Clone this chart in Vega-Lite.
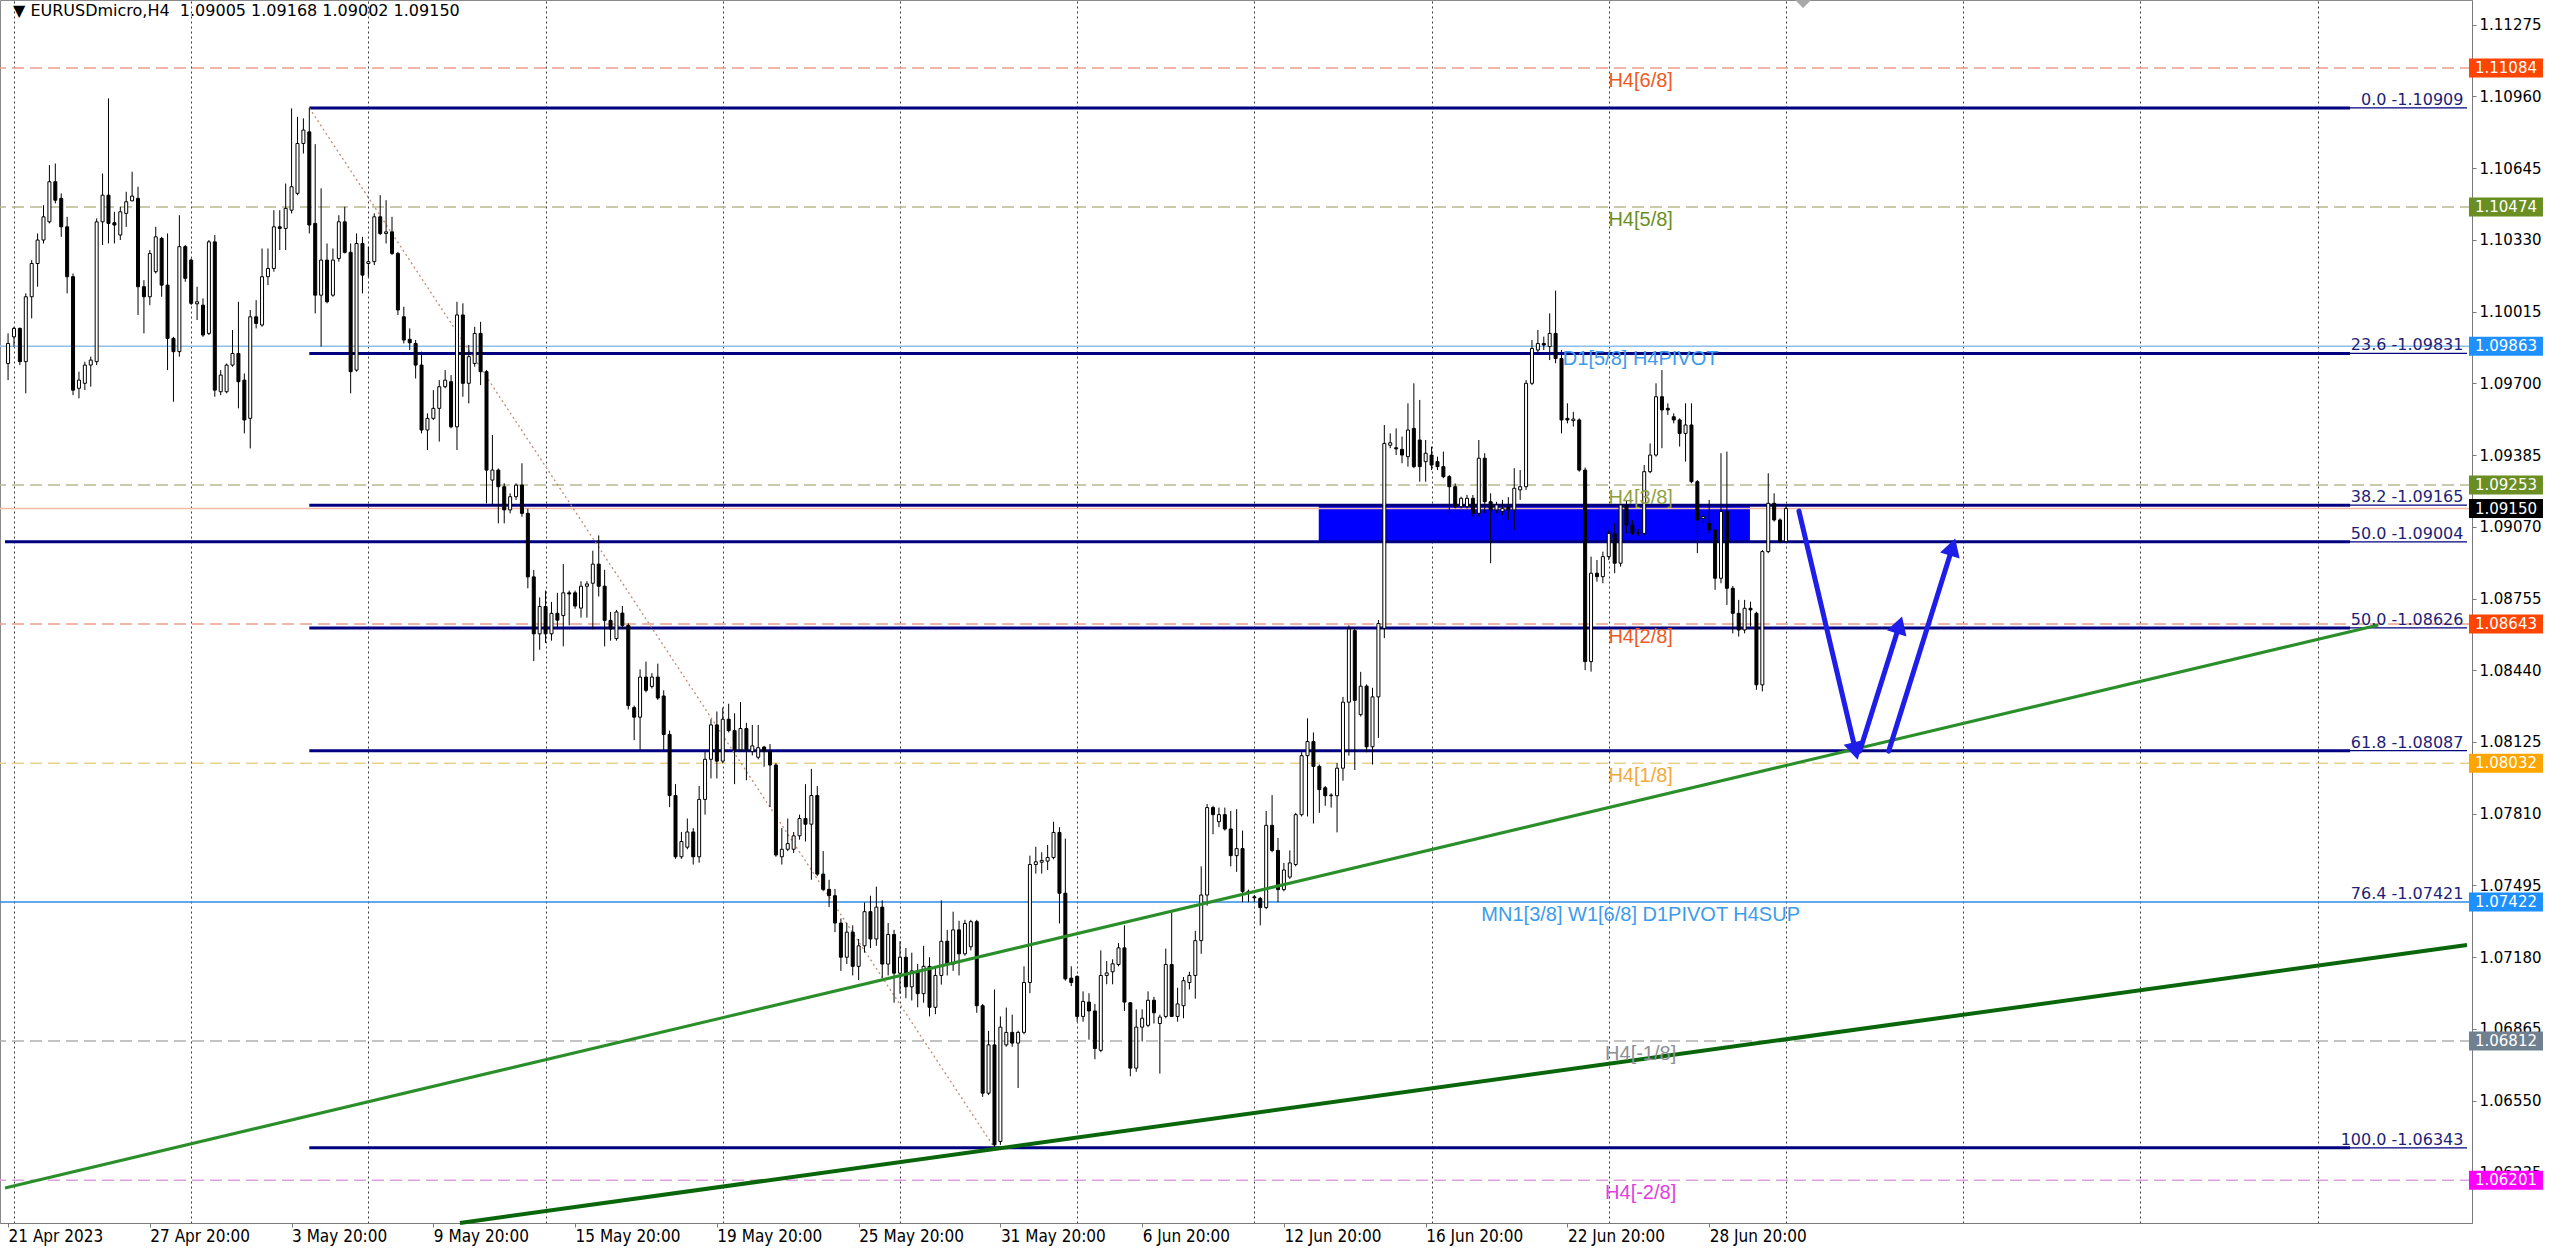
{
"$schema":"https://vega.github.io/schema/vega-lite/v6.json",
"width":2472,"height":1223,
"autosize":{"type":"none"},
"padding":{"left":0,"top":0,"right":88,"bottom":26},
"background":"white",
"view":{"stroke":"#8a8a8a","strokeWidth":1},
"datasets":{
"zone":[{"x1":220.9,"x2":293.9,"p1":1.09004,"p2":1.09165}],
"levels":[
{"name":"H4[6/8]","price":1.11084},
{"name":"H4[5/8]","price":1.10474},
{"name":"D1[5/8] H4PIVOT","price":1.09863},
{"name":"H4[3/8]","price":1.09253},
{"name":"bid","price":1.09150},
{"name":"H4[2/8]","price":1.08643},
{"name":"H4[1/8]","price":1.08032},
{"name":"MN1[3/8] W1[6/8] D1PIVOT H4SUP","price":1.07422},
{"name":"H4[-1/8]","price":1.06812},
{"name":"H4[-2/8]","price":1.06201}],
"fibs":[
{"label":"0.0 -1.10909","price":1.10909,"start":50},
{"label":"23.6 -1.09831","price":1.09831,"start":50},
{"label":"38.2 -1.09165","price":1.09165,"start":50},
{"label":"50.0 -1.09004","price":1.09004,"start":-1.52},
{"label":"50.0 -1.08626","price":1.08626,"start":50},
{"label":"61.8 -1.08087","price":1.08087,"start":50},
{"label":"76.4 -1.07421","price":1.07421,"start":50},
{"label":"100.0 -1.06343","price":1.06343,"start":50}],
"diag":[{"i":50,"p":1.10909},{"i":166,"p":1.06343}],
"trend":[
{"line":"upper","i":-1.52,"p":1.06167},{"line":"upper","i":400.3,"p":1.08639},
{"line":"lower","i":75.5,"p":1.06013},{"line":"lower","i":415.3,"p":1.07234}],
"arrows":[
{"arrow":"A","pt":"start","i":302.2,"p":1.09139},{"arrow":"A","pt":"end","i":311.8,"p":1.08085},
{"arrow":"B","pt":"start","i":312.5,"p":1.08085},{"arrow":"B","pt":"end","i":319.2,"p":1.08639},
{"arrow":"C","pt":"start","i":317.4,"p":1.08085},{"arrow":"C","pt":"end","i":328.2,"p":1.08981}],
"candles":[
{"i":-1,"o":1.09787,"h":1.09919,"l":1.09714,"c":1.09875},
{"i":0,"o":1.09904,"h":1.09948,"l":1.09861,"c":1.09941},
{"i":1,"o":1.09941,"h":1.09945,"l":1.09780,"c":1.09795},
{"i":2,"o":1.09795,"h":1.10095,"l":1.09656,"c":1.10080},
{"i":3,"o":1.10080,"h":1.10241,"l":1.09985,"c":1.10226},
{"i":4,"o":1.10226,"h":1.10358,"l":1.10124,"c":1.10329},
{"i":5,"o":1.10329,"h":1.10482,"l":1.10314,"c":1.10431},
{"i":6,"o":1.10409,"h":1.10658,"l":1.10402,"c":1.10585},
{"i":7,"o":1.10585,"h":1.10665,"l":1.10490,"c":1.10504},
{"i":8,"o":1.10512,"h":1.10534,"l":1.10343,"c":1.10387},
{"i":9,"o":1.10387,"h":1.10431,"l":1.10095,"c":1.10168},
{"i":10,"o":1.10168,"h":1.10182,"l":1.09648,"c":1.09670},
{"i":11,"o":1.09678,"h":1.09751,"l":1.09634,"c":1.09714},
{"i":12,"o":1.09700,"h":1.09795,"l":1.09670,"c":1.09780},
{"i":13,"o":1.09780,"h":1.09817,"l":1.09685,"c":1.09802},
{"i":14,"o":1.09795,"h":1.10424,"l":1.09780,"c":1.10409},
{"i":15,"o":1.10409,"h":1.10621,"l":1.10307,"c":1.10526},
{"i":16,"o":1.10526,"h":1.10951,"l":1.10314,"c":1.10402},
{"i":17,"o":1.10405,"h":1.10453,"l":1.10314,"c":1.10395},
{"i":18,"o":1.10351,"h":1.10475,"l":1.10329,"c":1.10453},
{"i":19,"o":1.10446,"h":1.10541,"l":1.10387,"c":1.10497},
{"i":20,"o":1.10501,"h":1.10629,"l":1.10500,"c":1.10522},
{"i":21,"o":1.10512,"h":1.10563,"l":1.10000,"c":1.10124},
{"i":22,"o":1.10124,"h":1.10153,"l":1.09919,"c":1.10080},
{"i":23,"o":1.10080,"h":1.10285,"l":1.10043,"c":1.10270},
{"i":24,"o":1.10190,"h":1.10387,"l":1.10182,"c":1.10343},
{"i":25,"o":1.10336,"h":1.10343,"l":1.10080,"c":1.10131},
{"i":26,"o":1.10131,"h":1.10358,"l":1.09758,"c":1.09897},
{"i":27,"o":1.09897,"h":1.09904,"l":1.09619,"c":1.09839},
{"i":28,"o":1.09839,"h":1.10438,"l":1.09817,"c":1.10300},
{"i":29,"o":1.10300,"h":1.10307,"l":1.10146,"c":1.10161},
{"i":30,"o":1.10241,"h":1.10248,"l":1.10043,"c":1.10051},
{"i":31,"o":1.10049,"h":1.10124,"l":1.09978,"c":1.10058},
{"i":32,"o":1.10043,"h":1.10073,"l":1.09904,"c":1.09912},
{"i":33,"o":1.09919,"h":1.10329,"l":1.09912,"c":1.10321},
{"i":34,"o":1.10321,"h":1.10351,"l":1.09641,"c":1.09670},
{"i":35,"o":1.09663,"h":1.09758,"l":1.09648,"c":1.09736},
{"i":36,"o":1.09663,"h":1.09787,"l":1.09656,"c":1.09780},
{"i":37,"o":1.09780,"h":1.09934,"l":1.09773,"c":1.09831},
{"i":38,"o":1.09831,"h":1.10058,"l":1.09590,"c":1.09707},
{"i":39,"o":1.09714,"h":1.09743,"l":1.09480,"c":1.09539},
{"i":40,"o":1.09546,"h":1.10022,"l":1.09414,"c":1.09992},
{"i":41,"o":1.09992,"h":1.10065,"l":1.09941,"c":1.09963},
{"i":42,"o":1.09956,"h":1.10292,"l":1.09948,"c":1.10168},
{"i":43,"o":1.10168,"h":1.10292,"l":1.10131,"c":1.10204},
{"i":44,"o":1.10204,"h":1.10460,"l":1.10190,"c":1.10387},
{"i":45,"o":1.10387,"h":1.10460,"l":1.10285,"c":1.10380},
{"i":46,"o":1.10380,"h":1.10577,"l":1.10285,"c":1.10468},
{"i":47,"o":1.10460,"h":1.10907,"l":1.10446,"c":1.10563},
{"i":48,"o":1.10534,"h":1.10870,"l":1.10526,"c":1.10753},
{"i":49,"o":1.10753,"h":1.10863,"l":1.10709,"c":1.10812},
{"i":50,"o":1.10804,"h":1.10909,"l":1.10358,"c":1.10395},
{"i":51,"o":1.10402,"h":1.10750,"l":1.10007,"c":1.10087},
{"i":52,"o":1.10087,"h":1.10556,"l":1.09861,"c":1.10241},
{"i":53,"o":1.10241,"h":1.10314,"l":1.10051,"c":1.10058},
{"i":54,"o":1.10087,"h":1.10292,"l":1.10080,"c":1.10241},
{"i":55,"o":1.10248,"h":1.10438,"l":1.10234,"c":1.10409},
{"i":56,"o":1.10409,"h":1.10475,"l":1.10270,"c":1.10275},
{"i":57,"o":1.10275,"h":1.10314,"l":1.09656,"c":1.09751},
{"i":58,"o":1.09758,"h":1.10358,"l":1.09751,"c":1.10314},
{"i":59,"o":1.10314,"h":1.10343,"l":1.10095,"c":1.10175},
{"i":60,"o":1.10226,"h":1.10300,"l":1.10168,"c":1.10234},
{"i":61,"o":1.10234,"h":1.10446,"l":1.10219,"c":1.10431},
{"i":62,"o":1.10431,"h":1.10526,"l":1.10351,"c":1.10358},
{"i":63,"o":1.10358,"h":1.10504,"l":1.10314,"c":1.10365},
{"i":64,"o":1.10365,"h":1.10431,"l":1.10263,"c":1.10270},
{"i":65,"o":1.10270,"h":1.10277,"l":1.10000,"c":1.10022},
{"i":66,"o":1.09992,"h":1.10036,"l":1.09875,"c":1.09890},
{"i":67,"o":1.09893,"h":1.09941,"l":1.09846,"c":1.09878},
{"i":68,"o":1.09875,"h":1.09890,"l":1.09721,"c":1.09780},
{"i":69,"o":1.09780,"h":1.09839,"l":1.09480,"c":1.09495},
{"i":70,"o":1.09495,"h":1.09568,"l":1.09407,"c":1.09546},
{"i":71,"o":1.09546,"h":1.09670,"l":1.09539,"c":1.09590},
{"i":72,"o":1.09590,"h":1.09714,"l":1.09444,"c":1.09685},
{"i":73,"o":1.09685,"h":1.09758,"l":1.09678,"c":1.09714},
{"i":74,"o":1.09707,"h":1.09736,"l":1.09502,"c":1.09509},
{"i":75,"o":1.09509,"h":1.10058,"l":1.09407,"c":1.10000},
{"i":76,"o":1.10000,"h":1.10051,"l":1.09641,"c":1.09700},
{"i":77,"o":1.09700,"h":1.09868,"l":1.09612,"c":1.09817},
{"i":78,"o":1.09787,"h":1.09948,"l":1.09773,"c":1.09919},
{"i":79,"o":1.09919,"h":1.09970,"l":1.09692,"c":1.09751},
{"i":80,"o":1.09751,"h":1.09758,"l":1.09173,"c":1.09319},
{"i":81,"o":1.09275,"h":1.09473,"l":1.09165,"c":1.09319},
{"i":82,"o":1.09319,"h":1.09326,"l":1.09085,"c":1.09246},
{"i":83,"o":1.09246,"h":1.09261,"l":1.09085,"c":1.09144},
{"i":84,"o":1.09144,"h":1.09217,"l":1.09129,"c":1.09202},
{"i":85,"o":1.09202,"h":1.09261,"l":1.09188,"c":1.09253},
{"i":86,"o":1.09253,"h":1.09349,"l":1.09114,"c":1.09129},
{"i":87,"o":1.09129,"h":1.09150,"l":1.08800,"c":1.08850},
{"i":88,"o":1.08850,"h":1.08880,"l":1.08480,"c":1.08600},
{"i":89,"o":1.08600,"h":1.08760,"l":1.08530,"c":1.08720},
{"i":90,"o":1.08720,"h":1.08790,"l":1.08560,"c":1.08600},
{"i":91,"o":1.08600,"h":1.08740,"l":1.08570,"c":1.08690},
{"i":92,"o":1.08690,"h":1.08780,"l":1.08620,"c":1.08660},
{"i":93,"o":1.08680,"h":1.08906,"l":1.08545,"c":1.08780},
{"i":94,"o":1.08780,"h":1.08790,"l":1.08637,"c":1.08775},
{"i":95,"o":1.08780,"h":1.08790,"l":1.08710,"c":1.08722},
{"i":96,"o":1.08713,"h":1.08831,"l":1.08671,"c":1.08809},
{"i":97,"o":1.08809,"h":1.08831,"l":1.08671,"c":1.08819},
{"i":98,"o":1.08822,"h":1.08965,"l":1.08620,"c":1.08906},
{"i":99,"o":1.08906,"h":1.09032,"l":1.08764,"c":1.08809},
{"i":100,"o":1.08809,"h":1.08881,"l":1.08545,"c":1.08659},
{"i":101,"o":1.08659,"h":1.08696,"l":1.08570,"c":1.08621},
{"i":102,"o":1.08579,"h":1.08705,"l":1.08570,"c":1.08696},
{"i":103,"o":1.08691,"h":1.08722,"l":1.08621,"c":1.08637},
{"i":104,"o":1.08637,"h":1.08646,"l":1.08268,"c":1.08285},
{"i":105,"o":1.08276,"h":1.08285,"l":1.08133,"c":1.08234},
{"i":106,"o":1.08234,"h":1.08444,"l":1.08091,"c":1.08410},
{"i":107,"o":1.08410,"h":1.08478,"l":1.08343,"c":1.08352},
{"i":108,"o":1.08369,"h":1.08427,"l":1.08360,"c":1.08410},
{"i":109,"o":1.08410,"h":1.08469,"l":1.08310,"c":1.08318},
{"i":110,"o":1.08327,"h":1.08352,"l":1.08091,"c":1.08158},
{"i":111,"o":1.08158,"h":1.08175,"l":1.07839,"c":1.07890},
{"i":112,"o":1.07890,"h":1.07940,"l":1.07612,"c":1.07621},
{"i":113,"o":1.07621,"h":1.07730,"l":1.07612,"c":1.07688},
{"i":114,"o":1.07663,"h":1.07789,"l":1.07654,"c":1.07730},
{"i":115,"o":1.07730,"h":1.07747,"l":1.07587,"c":1.07621},
{"i":116,"o":1.07621,"h":1.07932,"l":1.07595,"c":1.07873},
{"i":117,"o":1.07873,"h":1.08083,"l":1.07806,"c":1.08049},
{"i":118,"o":1.08049,"h":1.08225,"l":1.07965,"c":1.08200},
{"i":119,"o":1.08200,"h":1.08259,"l":1.07965,"c":1.08041},
{"i":120,"o":1.08041,"h":1.08276,"l":1.08032,"c":1.08225},
{"i":121,"o":1.08225,"h":1.08293,"l":1.08167,"c":1.08175},
{"i":122,"o":1.08175,"h":1.08251,"l":1.07940,"c":1.08091},
{"i":123,"o":1.08091,"h":1.08301,"l":1.08083,"c":1.08184},
{"i":124,"o":1.08184,"h":1.08209,"l":1.07957,"c":1.08091},
{"i":125,"o":1.08083,"h":1.08200,"l":1.08066,"c":1.08108},
{"i":126,"o":1.08058,"h":1.08200,"l":1.08049,"c":1.08100},
{"i":127,"o":1.08103,"h":1.08108,"l":1.08016,"c":1.08083},
{"i":128,"o":1.08083,"h":1.08116,"l":1.07839,"c":1.08024},
{"i":129,"o":1.08024,"h":1.08032,"l":1.07621,"c":1.07629},
{"i":130,"o":1.07621,"h":1.07747,"l":1.07587,"c":1.07654},
{"i":131,"o":1.07654,"h":1.07789,"l":1.07646,"c":1.07679},
{"i":132,"o":1.07654,"h":1.07730,"l":1.07637,"c":1.07713},
{"i":133,"o":1.07713,"h":1.07806,"l":1.07696,"c":1.07789},
{"i":134,"o":1.07789,"h":1.07940,"l":1.07688,"c":1.07764},
{"i":135,"o":1.07764,"h":1.08007,"l":1.07520,"c":1.07890},
{"i":136,"o":1.07890,"h":1.07932,"l":1.07537,"c":1.07545},
{"i":137,"o":1.07545,"h":1.07646,"l":1.07470,"c":1.07478},
{"i":138,"o":1.07478,"h":1.07520,"l":1.07400,"c":1.07450},
{"i":139,"o":1.07450,"h":1.07480,"l":1.07290,"c":1.07330},
{"i":140,"o":1.07330,"h":1.07350,"l":1.07120,"c":1.07180},
{"i":141,"o":1.07180,"h":1.07330,"l":1.07150,"c":1.07290},
{"i":142,"o":1.07290,"h":1.07320,"l":1.07100,"c":1.07140},
{"i":143,"o":1.07140,"h":1.07260,"l":1.07080,"c":1.07230},
{"i":144,"o":1.07230,"h":1.07420,"l":1.07200,"c":1.07380},
{"i":145,"o":1.07380,"h":1.07450,"l":1.07220,"c":1.07260},
{"i":146,"o":1.07260,"h":1.07490,"l":1.07230,"c":1.07400},
{"i":147,"o":1.07400,"h":1.07430,"l":1.07090,"c":1.07150},
{"i":148,"o":1.07150,"h":1.07330,"l":1.07100,"c":1.07280},
{"i":149,"o":1.07280,"h":1.07300,"l":1.06980,"c":1.07110},
{"i":150,"o":1.07110,"h":1.07250,"l":1.07020,"c":1.07180},
{"i":151,"o":1.07180,"h":1.07220,"l":1.07000,"c":1.07050},
{"i":152,"o":1.07050,"h":1.07200,"l":1.06990,"c":1.07120},
{"i":153,"o":1.07120,"h":1.07150,"l":1.06960,"c":1.07020},
{"i":154,"o":1.07020,"h":1.07230,"l":1.06980,"c":1.07140},
{"i":155,"o":1.07140,"h":1.07180,"l":1.06920,"c":1.06960},
{"i":156,"o":1.06960,"h":1.07140,"l":1.06930,"c":1.07100},
{"i":157,"o":1.07100,"h":1.07430,"l":1.07060,"c":1.07250},
{"i":158,"o":1.07250,"h":1.07300,"l":1.07100,"c":1.07150},
{"i":159,"o":1.07150,"h":1.07380,"l":1.07120,"c":1.07300},
{"i":160,"o":1.07300,"h":1.07340,"l":1.07100,"c":1.07195},
{"i":161,"o":1.07195,"h":1.07344,"l":1.07187,"c":1.07328},
{"i":162,"o":1.07226,"h":1.07344,"l":1.07210,"c":1.07336},
{"i":163,"o":1.07336,"h":1.07344,"l":1.06936,"c":1.06967},
{"i":164,"o":1.06967,"h":1.06975,"l":1.06567,"c":1.06583},
{"i":165,"o":1.06583,"h":1.06857,"l":1.06575,"c":1.06795},
{"i":166,"o":1.06795,"h":1.07038,"l":1.06343,"c":1.06356},
{"i":167,"o":1.06371,"h":1.06920,"l":1.06356,"c":1.06873},
{"i":168,"o":1.06795,"h":1.06959,"l":1.06787,"c":1.06850},
{"i":169,"o":1.06850,"h":1.06928,"l":1.06787,"c":1.06803},
{"i":170,"o":1.06803,"h":1.06857,"l":1.06606,"c":1.06850},
{"i":171,"o":1.06850,"h":1.07140,"l":1.06842,"c":1.07069},
{"i":172,"o":1.07069,"h":1.07626,"l":1.07022,"c":1.07587},
{"i":173,"o":1.07587,"h":1.07665,"l":1.07547,"c":1.07599},
{"i":174,"o":1.07597,"h":1.07641,"l":1.07547,"c":1.07605},
{"i":175,"o":1.07602,"h":1.07673,"l":1.07563,"c":1.07618},
{"i":176,"o":1.07618,"h":1.07775,"l":1.07610,"c":1.07728},
{"i":177,"o":1.07728,"h":1.07751,"l":1.07328,"c":1.07461},
{"i":178,"o":1.07461,"h":1.07701,"l":1.07077,"c":1.07085},
{"i":179,"o":1.07088,"h":1.07140,"l":1.07053,"c":1.07069},
{"i":180,"o":1.07096,"h":1.07100,"l":1.06897,"c":1.06920},
{"i":181,"o":1.06920,"h":1.07030,"l":1.06897,"c":1.06986},
{"i":182,"o":1.06983,"h":1.07022,"l":1.06818,"c":1.06944},
{"i":183,"o":1.06944,"h":1.06975,"l":1.06732,"c":1.06779},
{"i":184,"o":1.06771,"h":1.07210,"l":1.06763,"c":1.07100},
{"i":185,"o":1.07100,"h":1.07163,"l":1.07061,"c":1.07111},
{"i":186,"o":1.07116,"h":1.07171,"l":1.07061,"c":1.07151},
{"i":187,"o":1.07148,"h":1.07242,"l":1.07140,"c":1.07221},
{"i":188,"o":1.07221,"h":1.07320,"l":1.06944,"c":1.06983},
{"i":189,"o":1.06980,"h":1.06983,"l":1.06657,"c":1.06693},
{"i":190,"o":1.06693,"h":1.06951,"l":1.06677,"c":1.06873},
{"i":191,"o":1.06873,"h":1.06951,"l":1.06810,"c":1.06912},
{"i":192,"o":1.06881,"h":1.07030,"l":1.06873,"c":1.06991},
{"i":193,"o":1.06991,"h":1.07006,"l":1.06889,"c":1.06936},
{"i":194,"o":1.06889,"h":1.06928,"l":1.06669,"c":1.06917},
{"i":195,"o":1.06920,"h":1.07218,"l":1.06912,"c":1.07148},
{"i":196,"o":1.07148,"h":1.07383,"l":1.06917,"c":1.06920},
{"i":197,"o":1.06920,"h":1.07046,"l":1.06897,"c":1.06975},
{"i":198,"o":1.06967,"h":1.07093,"l":1.06912,"c":1.07077},
{"i":199,"o":1.07069,"h":1.07116,"l":1.07038,"c":1.07100},
{"i":200,"o":1.07100,"h":1.07296,"l":1.06998,"c":1.07253},
{"i":201,"o":1.07253,"h":1.07579,"l":1.07195,"c":1.07453},
{"i":202,"o":1.07453,"h":1.07853,"l":1.07406,"c":1.07837},
{"i":203,"o":1.07837,"h":1.07845,"l":1.07720,"c":1.07806},
{"i":204,"o":1.07775,"h":1.07837,"l":1.07751,"c":1.07806},
{"i":205,"o":1.07806,"h":1.07837,"l":1.07736,"c":1.07743},
{"i":206,"o":1.07743,"h":1.07822,"l":1.07579,"c":1.07626},
{"i":207,"o":1.07626,"h":1.07830,"l":1.07555,"c":1.07657},
{"i":208,"o":1.07657,"h":1.07736,"l":1.07422,"c":1.07469},
{"i":209,"o":1.07469,"h":1.07477,"l":1.07422,"c":1.07461},
{"i":210,"o":1.07445,"h":1.07453,"l":1.07422,"c":1.07441},
{"i":211,"o":1.07438,"h":1.07445,"l":1.07320,"c":1.07398},
{"i":212,"o":1.07398,"h":1.07822,"l":1.07391,"c":1.07759},
{"i":213,"o":1.07759,"h":1.07892,"l":1.07641,"c":1.07649},
{"i":214,"o":1.07649,"h":1.07704,"l":1.07422,"c":1.07477},
{"i":215,"o":1.07477,"h":1.07594,"l":1.07469,"c":1.07563},
{"i":216,"o":1.07532,"h":1.07649,"l":1.07524,"c":1.07594},
{"i":217,"o":1.07587,"h":1.07814,"l":1.07579,"c":1.07806},
{"i":218,"o":1.07806,"h":1.08080,"l":1.07798,"c":1.08065},
{"i":219,"o":1.08065,"h":1.08229,"l":1.07798,"c":1.08127},
{"i":220,"o":1.08127,"h":1.08167,"l":1.07767,"c":1.08018},
{"i":221,"o":1.08018,"h":1.08026,"l":1.07814,"c":1.07916},
{"i":222,"o":1.07924,"h":1.07932,"l":1.07845,"c":1.07889},
{"i":223,"o":1.07889,"h":1.07900,"l":1.07837,"c":1.07892},
{"i":224,"o":1.07889,"h":1.08033,"l":1.07728,"c":1.08010},
{"i":225,"o":1.08010,"h":1.08323,"l":1.07955,"c":1.08300},
{"i":226,"o":1.08300,"h":1.08637,"l":1.08065,"c":1.08621},
{"i":227,"o":1.08614,"h":1.08629,"l":1.08002,"c":1.08308},
{"i":228,"o":1.08245,"h":1.08433,"l":1.08237,"c":1.08370},
{"i":229,"o":1.08370,"h":1.08378,"l":1.08080,"c":1.08104},
{"i":230,"o":1.08104,"h":1.08363,"l":1.08026,"c":1.08323},
{"i":231,"o":1.08323,"h":1.08661,"l":1.08143,"c":1.08645},
{"i":232,"o":1.08624,"h":1.09517,"l":1.08581,"c":1.09436},
{"i":233,"o":1.09428,"h":1.09480,"l":1.09415,"c":1.09439},
{"i":234,"o":1.09417,"h":1.09502,"l":1.09385,"c":1.09412},
{"i":235,"o":1.09410,"h":1.09466,"l":1.09349,"c":1.09385},
{"i":236,"o":1.09378,"h":1.09612,"l":1.09334,"c":1.09495},
{"i":237,"o":1.09502,"h":1.09700,"l":1.09327,"c":1.09334},
{"i":238,"o":1.09451,"h":1.09627,"l":1.09268,"c":1.09334},
{"i":239,"o":1.09356,"h":1.09451,"l":1.09268,"c":1.09393},
{"i":240,"o":1.09385,"h":1.09422,"l":1.09319,"c":1.09341},
{"i":241,"o":1.09356,"h":1.09378,"l":1.09319,"c":1.09334},
{"i":242,"o":1.09334,"h":1.09400,"l":1.09283,"c":1.09290},
{"i":243,"o":1.09290,"h":1.09297,"l":1.09129,"c":1.09246},
{"i":244,"o":1.09246,"h":1.09260,"l":1.09151,"c":1.09158},
{"i":245,"o":1.09158,"h":1.09202,"l":1.09151,"c":1.09195},
{"i":246,"o":1.09158,"h":1.09210,"l":1.09150,"c":1.09195},
{"i":247,"o":1.09195,"h":1.09210,"l":1.09115,"c":1.09129},
{"i":248,"o":1.09129,"h":1.09451,"l":1.09115,"c":1.09371},
{"i":249,"o":1.09371,"h":1.09393,"l":1.09129,"c":1.09180},
{"i":250,"o":1.09180,"h":1.09217,"l":1.08910,"c":1.09144},
{"i":251,"o":1.09144,"h":1.09180,"l":1.09129,"c":1.09166},
{"i":252,"o":1.09137,"h":1.09188,"l":1.09122,"c":1.09151},
{"i":253,"o":1.09158,"h":1.09200,"l":1.09100,"c":1.09144},
{"i":254,"o":1.09144,"h":1.09327,"l":1.09056,"c":1.09239},
{"i":255,"o":1.09232,"h":1.09319,"l":1.09188,"c":1.09246},
{"i":256,"o":1.09246,"h":1.09714,"l":1.09232,"c":1.09700},
{"i":257,"o":1.09700,"h":1.09890,"l":1.09692,"c":1.09853},
{"i":258,"o":1.09846,"h":1.09934,"l":1.09832,"c":1.09875},
{"i":259,"o":1.09875,"h":1.09905,"l":1.09846,"c":1.09868},
{"i":260,"o":1.09861,"h":1.10007,"l":1.09802,"c":1.09919},
{"i":261,"o":1.09919,"h":1.10107,"l":1.09788,"c":1.09809},
{"i":262,"o":1.09809,"h":1.09846,"l":1.09480,"c":1.09539},
{"i":263,"o":1.09546,"h":1.09612,"l":1.09524,"c":1.09539},
{"i":264,"o":1.09536,"h":1.09575,"l":1.09510,"c":1.09543},
{"i":265,"o":1.09539,"h":1.09546,"l":1.09312,"c":1.09319},
{"i":266,"o":1.09319,"h":1.09330,"l":1.08441,"c":1.08478},
{"i":267,"o":1.08478,"h":1.08939,"l":1.08434,"c":1.08866},
{"i":268,"o":1.08866,"h":1.08924,"l":1.08829,"c":1.08851},
{"i":269,"o":1.08851,"h":1.08961,"l":1.08822,"c":1.08939},
{"i":270,"o":1.08939,"h":1.09056,"l":1.08924,"c":1.09041},
{"i":271,"o":1.09041,"h":1.09085,"l":1.08866,"c":1.08910},
{"i":272,"o":1.08910,"h":1.09173,"l":1.08895,"c":1.09166},
{"i":273,"o":1.09166,"h":1.09188,"l":1.09041,"c":1.09078},
{"i":274,"o":1.09078,"h":1.09100,"l":1.09034,"c":1.09041},
{"i":275,"o":1.09041,"h":1.09060,"l":1.09030,"c":1.09045},
{"i":276,"o":1.09041,"h":1.09341,"l":1.09034,"c":1.09312},
{"i":277,"o":1.09312,"h":1.09436,"l":1.09305,"c":1.09385},
{"i":278,"o":1.09385,"h":1.09700,"l":1.09378,"c":1.09641},
{"i":279,"o":1.09641,"h":1.09758,"l":1.09415,"c":1.09583},
{"i":280,"o":1.09590,"h":1.09612,"l":1.09561,"c":1.09583},
{"i":281,"o":1.09553,"h":1.09568,"l":1.09524,"c":1.09539},
{"i":282,"o":1.09539,"h":1.09546,"l":1.09422,"c":1.09480},
{"i":283,"o":1.09480,"h":1.09612,"l":1.09356,"c":1.09517},
{"i":284,"o":1.09517,"h":1.09612,"l":1.09261,"c":1.09268},
{"i":285,"o":1.09268,"h":1.09275,"l":1.08954,"c":1.09100},
{"i":286,"o":1.09107,"h":1.09129,"l":1.09085,"c":1.09115},
{"i":287,"o":1.09085,"h":1.09188,"l":1.09041,"c":1.09056},
{"i":288,"o":1.09056,"h":1.09056,"l":1.08793,"c":1.08844},
{"i":289,"o":1.08844,"h":1.09393,"l":1.08822,"c":1.09137},
{"i":290,"o":1.09137,"h":1.09400,"l":1.08727,"c":1.08800},
{"i":291,"o":1.08800,"h":1.08810,"l":1.08602,"c":1.08690},
{"i":292,"o":1.08690,"h":1.08749,"l":1.08588,"c":1.08617},
{"i":293,"o":1.08617,"h":1.08749,"l":1.08602,"c":1.08712},
{"i":294,"o":1.08712,"h":1.08741,"l":1.08632,"c":1.08705},
{"i":295,"o":1.08690,"h":1.08697,"l":1.08354,"c":1.08376},
{"i":296,"o":1.08376,"h":1.08968,"l":1.08347,"c":1.08961},
{"i":297,"o":1.08961,"h":1.09305,"l":1.08954,"c":1.09173},
{"i":298,"o":1.09173,"h":1.09217,"l":1.09093,"c":1.09100},
{"i":299,"o":1.09100,"h":1.09107,"l":1.08998,"c":1.09005},
{"i":300,"o":1.09005,"h":1.09168,"l":1.09002,"c":1.09150}]
},
"resolve":{"scale":{"color":"independent","strokeDash":"independent","size":"independent"},"axis":{"x":"independent","y":"independent"}},
"layer":[
{"data":{"name":"zone"},
 "mark":{"type":"rect","color":"#0000ff"},
 "encoding":{
  "x":{"field":"x1","type":"quantitative","scale":{"domain":[-1.52,415.3],"nice":false,"zero":false},
       "axis":{"orient":"top","grid":true,"values":[0,30,60,90,120,150,180,210,240,270,300,330,360,390],"labels":false,"ticks":false,"domain":false,"title":null,"gridDash":[2,3],"gridColor":"#3a3a3a","gridWidth":1}},
  "x2":{"field":"x2"},
  "y":{"field":"p1","type":"quantitative","scale":{"domain":[1.06013,1.11383],"nice":false,"zero":false},
       "axis":{"orient":"right","title":null,"grid":false,"values":[1.11275,1.1096,1.10645,1.1033,1.10015,1.097,1.09385,1.0907,1.08755,1.0844,1.08125,1.0781,1.07495,1.0718,1.06865,1.0655,1.06235],"format":".5f","labelFont":"DejaVu Sans","labelFontSize":15,"labelColor":"#000000","tickSize":4,"tickColor":"#7a7a7a","domainColor":"#7a7a7a","labelPadding":3}},
  "y2":{"field":"p2"}}},
{"data":{"name":"levels"},
 "mark":{"type":"rule"},
 "encoding":{
  "y":{"field":"price","type":"quantitative","axis":null},
  "color":{"field":"name","type":"nominal","legend":null,"scale":{"domain":["H4[6/8]","H4[5/8]","D1[5/8] H4PIVOT","H4[3/8]","bid","H4[2/8]","H4[1/8]","MN1[3/8] W1[6/8] D1PIVOT H4SUP","H4[-1/8]","H4[-2/8]"],"range":["#e9a08a","#b8b890","#8cc0ea","#b8b890","#f2b8a8","#e9a08a","#e8d28c","#2e8ce6","#b0b0b0","#dda0dd"]}},
  "strokeDash":{"field":"name","type":"nominal","legend":null,"scale":{"domain":["H4[6/8]","H4[5/8]","D1[5/8] H4PIVOT","H4[3/8]","bid","H4[2/8]","H4[1/8]","MN1[3/8] W1[6/8] D1PIVOT H4SUP","H4[-1/8]","H4[-2/8]"],"range":[[12,6],[12,6],[1,0],[12,6],[1,0],[12,6],[12,6],[1,0],[12,6],[12,6]]}},
  "size":{"field":"name","type":"nominal","legend":null,"scale":{"domain":["H4[6/8]","H4[5/8]","D1[5/8] H4PIVOT","H4[3/8]","bid","H4[2/8]","H4[1/8]","MN1[3/8] W1[6/8] D1PIVOT H4SUP","H4[-1/8]","H4[-2/8]"],"range":[1.5,1.5,1.2,1.5,1,1.5,1.5,2.5,1.5,1.5]}}}},
{"data":{"name":"fibs"},
 "transform":[{"filter":"datum.label != '76.4 -1.07421'"}],
 "mark":{"type":"rule","color":"#000080","strokeWidth":3},
 "encoding":{
  "x":{"field":"start","type":"quantitative","axis":null},
  "x2":{"datum":395.5},
  "y":{"field":"price","type":"quantitative","axis":null}}},
{"data":{"name":"fibs"},
 "transform":[{"filter":"datum.label != '76.4 -1.07421'"}],
 "mark":{"type":"rule","color":"#000080","strokeWidth":1.2},
 "encoding":{
  "x":{"datum":395,"type":"quantitative","axis":null},
  "x2":{"datum":415.3},
  "y":{"field":"price","type":"quantitative","axis":null}}},
{"data":{"name":"diag"},
 "mark":{"type":"line","color":"#c48a78","strokeWidth":1.3,"strokeDash":[2,3]},
 "encoding":{
  "x":{"field":"i","type":"quantitative","axis":null},
  "y":{"field":"p","type":"quantitative","axis":null}}},
{"data":{"name":"candles"},
 "mark":{"type":"rule","color":"#000000","strokeWidth":1},
 "encoding":{
  "x":{"field":"i","type":"quantitative",
       "axis":{"orient":"bottom","title":null,"grid":false,"values":[-1,23,47,71,95,119,143,167,191,215,239,263,287],
        "labelExpr":"['21 Apr 2023','27 Apr 20:00','3 May 20:00','9 May 20:00','15 May 20:00','19 May 20:00','25 May 20:00','31 May 20:00','6 Jun 20:00','12 Jun 20:00','16 Jun 20:00','22 Jun 20:00','28 Jun 20:00'][round((datum.value+1)/24)]",
        "labelAlign":"left","labelBaseline":"top","labelFont":"DejaVu Sans Condensed, DejaVu Sans","labelFontSize":17,"labelColor":"#000000","labelPadding":1,"labelOverlap":false,"labelFlush":false,"labelBound":false,"tickSize":4,"tickColor":"#7a7a7a","domainColor":"#7a7a7a"}},
  "y":{"field":"l","type":"quantitative","axis":null},
  "y2":{"field":"h"}}},
{"data":{"name":"candles"},
 "mark":{"type":"bar","size":3,"stroke":"#000000","strokeWidth":1},
 "encoding":{
  "x":{"field":"i","type":"quantitative","axis":null},
  "y":{"field":"o","type":"quantitative","axis":null},
  "y2":{"field":"c"},
  "fill":{"condition":{"test":"datum.c > datum.o","value":"#ffffff"},"value":"#000000"}}},
{"data":{"name":"trend"},
 "transform":[{"filter":"datum.line == 'upper'"}],
 "mark":{"type":"line","color":"#2a8f2a","strokeWidth":3},
 "encoding":{
  "x":{"field":"i","type":"quantitative","axis":null},
  "y":{"field":"p","type":"quantitative","axis":null}}},
{"data":{"name":"trend"},
 "transform":[{"filter":"datum.line == 'lower'"}],
 "mark":{"type":"line","color":"#0a660a","strokeWidth":4},
 "encoding":{
  "x":{"field":"i","type":"quantitative","axis":null},
  "y":{"field":"p","type":"quantitative","axis":null}}},
{"data":{"name":"arrows"},
 "mark":{"type":"line","color":"#1e1ee8","strokeWidth":5,"strokeCap":"round"},
 "encoding":{
  "x":{"field":"i","type":"quantitative","axis":null},
  "y":{"field":"p","type":"quantitative","axis":null},
  "detail":{"field":"arrow"}}},
{"data":{"name":"arrows"},
 "transform":[{"filter":"datum.arrow == 'A' && datum.pt == 'end'"}],
 "mark":{"type":"point","shape":"triangle-up","filled":true,"color":"#1e1ee8","size":420,"angle":166.6,"opacity":1},
 "encoding":{
  "x":{"field":"i","type":"quantitative","axis":null},
  "y":{"field":"p","type":"quantitative","axis":null}}},
{"data":{"name":"arrows"},
 "transform":[{"filter":"datum.arrow == 'B' && datum.pt == 'end'"}],
 "mark":{"type":"point","shape":"triangle-up","filled":true,"color":"#1e1ee8","size":420,"angle":17.6,"opacity":1},
 "encoding":{
  "x":{"field":"i","type":"quantitative","axis":null},
  "y":{"field":"p","type":"quantitative","axis":null}}},
{"data":{"name":"arrows"},
 "transform":[{"filter":"datum.arrow == 'C' && datum.pt == 'end'"}],
 "mark":{"type":"point","shape":"triangle-up","filled":true,"color":"#1e1ee8","size":420,"angle":17.4,"opacity":1},
 "encoding":{
  "x":{"field":"i","type":"quantitative","axis":null},
  "y":{"field":"p","type":"quantitative","axis":null}}},
{"data":{"name":"levels"},
 "transform":[{"filter":"datum.name != 'bid'"}],
 "mark":{"type":"text","align":"center","baseline":"middle","dy":13,"font":"Liberation Sans","fontSize":20},
 "encoding":{
  "x":{"datum":275.4,"type":"quantitative","axis":null},
  "y":{"field":"price","type":"quantitative","axis":null},
  "text":{"field":"name"},
  "color":{"field":"name","type":"nominal","legend":null,"scale":{"domain":["H4[6/8]","H4[5/8]","D1[5/8] H4PIVOT","H4[3/8]","H4[2/8]","H4[1/8]","MN1[3/8] W1[6/8] D1PIVOT H4SUP","H4[-1/8]","H4[-2/8]"],"range":["#ee5a24","#6b8e23","#3d9bea","#8f9f3f","#ee5a24","#f2a93b","#3d9bea","#8c9098","#e040e0"]}}}},
{"data":{"name":"fibs"},
 "mark":{"type":"text","align":"right","baseline":"alphabetic","dy":-3,"font":"DejaVu Sans","fontSize":16,"color":"#1e1e78"},
 "encoding":{
  "x":{"datum":414.7,"type":"quantitative","axis":null},
  "y":{"field":"price","type":"quantitative","axis":null},
  "text":{"field":"label"}}},
{"data":{"name":"levels"},
 "mark":{"type":"point","shape":"M-1,-0.257L1,-0.257L1,0.257L-1,0.257Z","filled":true,"size":5476,"opacity":1,"strokeWidth":0},
 "encoding":{
  "x":{"datum":421.9,"type":"quantitative","axis":null},
  "y":{"field":"price","type":"quantitative","axis":null},
  "color":{"field":"name","type":"nominal","legend":null,"scale":{"domain":["H4[6/8]","H4[5/8]","D1[5/8] H4PIVOT","H4[3/8]","bid","H4[2/8]","H4[1/8]","MN1[3/8] W1[6/8] D1PIVOT H4SUP","H4[-1/8]","H4[-2/8]"],"range":["#ff4500","#6b8e23","#1e90ff","#6b8e23","#000000","#ff4500","#ffa500","#1e90ff","#708090","#ff00ff"]}}}},
{"data":{"name":"levels"},
 "mark":{"type":"text","align":"center","baseline":"middle","font":"DejaVu Sans","fontSize":15,"color":"#ffffff"},
 "encoding":{
  "x":{"datum":421.9,"type":"quantitative","axis":null},
  "y":{"field":"price","type":"quantitative","axis":null},
  "text":{"field":"price","type":"quantitative","format":".5f"}}},
{"data":{"values":[{"t":"▼ EURUSDmicro,H4\u00a0 1.09005 1.09168 1.09002 1.09150"}]},
 "mark":{"type":"text","align":"left","baseline":"top","dx":8,"dy":3,"font":"DejaVu Sans","fontSize":16,"color":"#000000"},
 "encoding":{
  "x":{"datum":-1.52,"type":"quantitative","axis":null},
  "y":{"datum":1.11383,"type":"quantitative","axis":null},
  "text":{"field":"t"}}},
{"data":{"values":[{"t":"marker"}]},
 "mark":{"type":"point","shape":"diamond","filled":true,"color":"#a8a8a8","size":260,"opacity":1},
 "encoding":{
  "x":{"datum":302.9,"type":"quantitative","axis":null},
  "y":{"datum":1.11383,"type":"quantitative","axis":null}}}
]
}
